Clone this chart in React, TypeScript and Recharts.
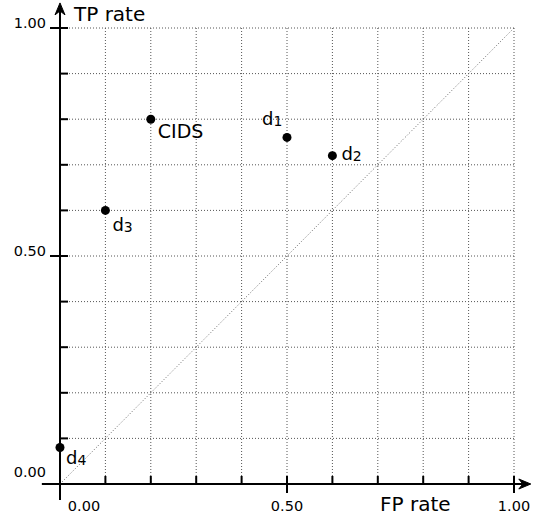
import {
  CartesianGrid,
  ReferenceLine,
  Scatter,
  ScatterChart,
  XAxis,
  YAxis,
} from 'recharts'

const names = ['CIDS', 'd1', 'd2', 'd3', 'd4']
const fpRate = [0.2, 0.5, 0.6, 0.1, 0.0]
const tpRate = [0.8, 0.76, 0.72, 0.6, 0.08]
const gridTicks = [0, 0.1, 0.2, 0.3, 0.4, 0.5, 0.6, 0.7, 0.8, 0.9, 1]
const majorTicks = [0, 0.5, 1]

const points = names.map((name, i) => ({ name, fp: fpRate[i], tp: tpRate[i] }))

const FONT = '"DejaVu Sans", sans-serif'
const TICK_FONT = 14.5

// label placement around each dot (dx, dy to text baseline)
const labelPos: Record<string, [number, number]> = {
  CIDS: [7, 19],
  d1: [-25, -12],
  d2: [9, 4],
  d3: [7, 21],
  d4: [6, 16],
}

function PointShape(props: any) {
  const { cx, cy, payload } = props
  const [dx, dy] = labelPos[payload.name] ?? [6, 16]
  const isSub = /^d\d$/.test(payload.name)
  return (
    <g>
      <circle cx={cx} cy={cy} r={4.5} fill="#000" />
      {isSub ? (
        <text x={cx + dx} y={cy + dy} fontFamily={FONT} fontSize={18} fill="#000">
          d
          <tspan fontSize={14} dy={1}>
            {payload.name.slice(1)}
          </tspan>
        </text>
      ) : (
        <text x={cx + dx} y={cy + dy} fontFamily={FONT} fontSize={19} fill="#000">
          {payload.name}
        </text>
      )}
    </g>
  )
}

const isMajor = (v: number) => majorTicks.some((m) => Math.abs(m - v) < 1e-6)

function renderXTick(props: any) {
  const { x, y, payload } = props
  const v = Number(payload.value)
  if (v === 0) {
    return (
      <text x={x + 24} y={y + 27} textAnchor="middle" fontFamily={FONT} fontSize={TICK_FONT} fill="#000">
        0.00
      </text>
    )
  }
  const major = isMajor(v)
  return (
    <g>
      <line x1={x} x2={x} y1={y - 8} y2={major ? y + 9 : y} stroke="#000" strokeWidth={2} />
      {major && (
        <text x={x} y={y + 27} textAnchor="middle" fontFamily={FONT} fontSize={TICK_FONT} fill="#000">
          {v.toFixed(2)}
        </text>
      )}
    </g>
  )
}

function renderYTick(props: any) {
  const { x, y, payload } = props
  const v = Number(payload.value)
  if (v === 0) {
    return (
      <text x={x - 14} y={y - 7} textAnchor="end" fontFamily={FONT} fontSize={TICK_FONT} fill="#000">
        0.00
      </text>
    )
  }
  const major = isMajor(v)
  return (
    <g>
      <line x1={major ? x - 10 : x} x2={x + 8} y1={y} y2={y} stroke="#000" strokeWidth={2} />
      {major && (
        <text x={x - 14} y={y} textAnchor="end" fontFamily={FONT} fontSize={TICK_FONT} fill="#000">
          {v.toFixed(2)}
        </text>
      )}
    </g>
  )
}

function ArrowAxis(props: any) {
  const { x1, y1, x2, y2 } = props
  const len = Math.hypot(x2 - x1, y2 - y1) || 1
  const ux = (x2 - x1) / len
  const uy = (y2 - y1) / len
  const px = -uy
  const py = ux
  const back = 12
  const half = 5
  const notch = 8
  const bx = x2 - ux * back
  const by = y2 - uy * back
  const nx = x2 - ux * notch
  const ny = y2 - uy * notch
  const d = `M${x2},${y2} L${bx + px * half},${by + py * half} L${nx},${ny} L${bx - px * half},${by - py * half} Z`
  return (
    <g>
      <line x1={x1} y1={y1} x2={nx} y2={ny} stroke="#000" strokeWidth={2} />
      <path d={d} fill="#000" stroke="#000" strokeWidth={1} strokeLinejoin="round" />
    </g>
  )
}

export default function App() {
  return (
    <div style={{ position: 'absolute', left: 0, top: 0, width: 533, height: 518, background: '#fff' }}>
      <ScatterChart width={533} height={518} margin={{ top: 28, right: 19, bottom: 0, left: 0 }}>
        <CartesianGrid stroke="#555" strokeDasharray="1 2" strokeWidth={1} />
        <XAxis
          type="number"
          dataKey="fp"
          domain={[0, 1]}
          ticks={gridTicks}
          interval={0}
          height={34}
          tickSize={0}
          tickMargin={0}
          axisLine={false}
          tickLine={false}
          tick={renderXTick}
        />
        <YAxis
          type="number"
          dataKey="tp"
          domain={[0, 1]}
          ticks={gridTicks}
          interval={0}
          width={60}
          tickSize={0}
          tickMargin={0}
          axisLine={false}
          tickLine={false}
          tick={renderYTick}
        />
        <ReferenceLine
          segment={[{ x: 0, y: 0 }, { x: 1, y: 1 }]}
          stroke="#666"
          strokeDasharray="1 2"
          ifOverflow="visible"
        />
        <ReferenceLine
          segment={[{ x: -0.04, y: 0 }, { x: 1.037, y: 0 }]}
          ifOverflow="visible"
          shape={(p: any) => <ArrowAxis {...p} />}
        />
        <ReferenceLine
          segment={[{ x: 0, y: -0.035 }, { x: 0, y: 1.055 }]}
          ifOverflow="visible"
          shape={(p: any) => <ArrowAxis {...p} />}
        />
        <Scatter data={points} shape={(p: any) => <PointShape {...p} />} isAnimationActive={false} />
        <text x={74} y={21} fontFamily={FONT} fontSize={20} fill="#000">
          TP rate
        </text>
        <text x={380} y={511} fontFamily={FONT} fontSize={20} fill="#000">
          FP rate
        </text>
      </ScatterChart>
    </div>
  )
}
